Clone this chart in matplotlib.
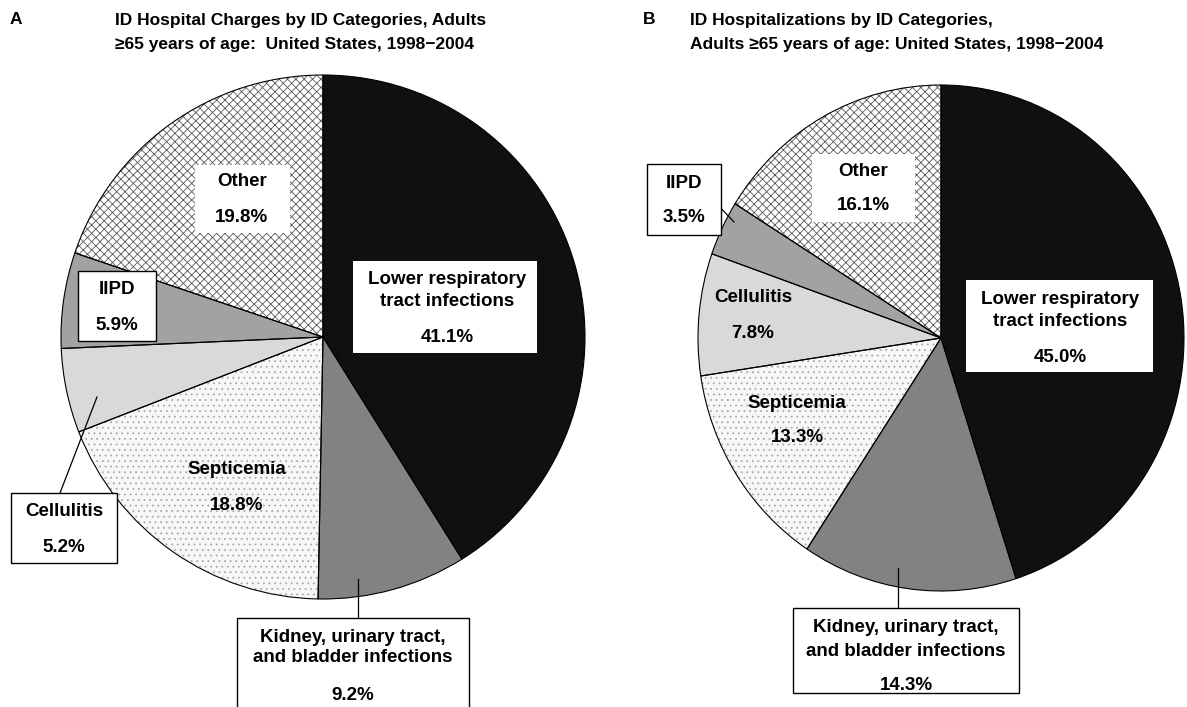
import matplotlib
matplotlib.use("Agg")
import matplotlib.pyplot as plt
from matplotlib.patches import Rectangle

plt.rcParams['font.family'] = ['Liberation Sans', 'DejaVu Sans']
plt.rcParams['hatch.linewidth'] = 0.6

# datos de los dos paneles
categorias = ['Lower respiratory tract infections',
              'Kidney, urinary tract, and bladder infections',
              'Septicemia', 'Cellulitis', 'IIPD', 'Other']
cargos = [41.1, 9.2, 18.8, 5.2, 5.9, 19.8]            # panel A
hospitalizaciones = [45.0, 14.3, 13.3, 7.8, 3.5, 16.1]  # panel B

colores = ['#101010', '#828282', '#f7f7f7', '#d9d9d9', '#a2a2a2', 'white']
tramas = ['', '', '...', '', '', 'xxxx']
color_trama = ['#101010', '#828282', '#a8a8a8', '#d9d9d9', '#a2a2a2', '#5a5a5a']

W, H = 1187, 707
fig = plt.figure(figsize=(W / 100, H / 100), dpi=100)


def tarta(valores, cx, cy, rx, ry):
    # un eje propio por tarta, ajustado a la caja de la elipse en pixeles
    a = fig.add_axes([(cx - rx) / W, (H - cy - ry) / H, 2 * rx / W, 2 * ry / H])
    w1, _ = a.pie(valores, colors=colores, startangle=90, counterclock=False,
                  radius=1, frame=True, wedgeprops=dict(linewidth=0))
    for w, h, c in zip(w1, tramas, color_trama):
        w.set_hatch(h)
        w.set_edgecolor(c)
    a.pie(valores, colors=['none'] * len(valores), startangle=90,
          counterclock=False, radius=1, frame=True,
          wedgeprops=dict(linewidth=0.8, edgecolor='black'))
    a.set_aspect('auto')
    a.set_xlim(-1, 1)
    a.set_ylim(-1, 1)
    a.axis('off')
    for w in a.patches:
        w.set_clip_on(False)


tarta(cargos, 323, 337, 262, 262)
tarta(hospitalizaciones, 941, 338, 243, 253)

ax = fig.add_axes([0, 0, 1, 1])
ax.set_xlim(0, W)
ax.set_ylim(H, 0)
ax.axis('off')


def caja(x0, y0, x1, y1, borde=True):
    ax.add_patch(Rectangle((x0, y0), x1 - x0, y1 - y0, facecolor='white',
                           edgecolor='black' if borde else 'none',
                           linewidth=1.0, zorder=5))


def texto(x, y, s):
    ax.text(x, y, s, ha='center', va='center', fontsize=13.5,
            fontweight='bold', zorder=6)


def linea(x0, y0, x1, y1):
    ax.plot([x0, x1], [y0, y1], color='black', linewidth=0.9, zorder=4)


# titulos
ax.text(10, 20, 'A', fontsize=12.5, fontweight='bold', va='center')
ax.text(115, 21, 'ID Hospital Charges by ID Categories, Adults',
        fontsize=12.5, fontweight='bold', va='center')
ax.text(115, 45, '\u226565 years of age:  United States, 1998\u22122004',
        fontsize=12.5, fontweight='bold', va='center')
ax.text(643, 20, 'B', fontsize=12.5, fontweight='bold', va='center')
ax.text(690, 21, 'ID Hospitalizations by ID Categories,',
        fontsize=12.5, fontweight='bold', va='center')
ax.text(690, 45, 'Adults \u226565 years of age: United States, 1998\u22122004',
        fontsize=12.5, fontweight='bold', va='center')

# panel A etiquetas
caja(195, 165, 290, 233, borde=False)
texto(242, 182, 'Other')
texto(242, 217, f'{cargos[5]:.1f}%')

caja(353, 261, 537, 353, borde=False)
texto(447, 279, 'Lower respiratory')
texto(447, 302, 'tract infections')
texto(447, 337, f'{cargos[0]:.1f}%')

caja(78, 271, 156, 341)
texto(117, 289, 'IIPD')
texto(117, 325, f'{cargos[4]:.1f}%')

linea(60, 493, 97, 397)
caja(11, 493, 117, 563)
texto(64, 512, 'Cellulitis')
texto(64, 548, f'{cargos[3]:.1f}%')

texto(237, 470, 'Septicemia')
texto(237, 505, f'{cargos[2]:.1f}%')

linea(358, 579, 358, 618)
caja(237, 618, 469, 730)
texto(353, 637, 'Kidney, urinary tract,')
texto(353, 658, 'and bladder infections')
texto(353, 695, f'{cargos[1]:.1f}%')

# panel B etiquetas
caja(812, 154, 915, 222, borde=False)
texto(863, 171, 'Other')
texto(863, 205, f'{hospitalizaciones[5]:.1f}%')

caja(966, 280, 1153, 372, borde=False)
texto(1060, 299, 'Lower respiratory')
texto(1060, 322, 'tract infections')
texto(1060, 357, f'{hospitalizaciones[0]:.1f}%')

linea(715, 202, 734, 222)
caja(647, 164, 721, 235)
texto(684, 183, 'IIPD')
texto(684, 218, f'{hospitalizaciones[4]:.1f}%')

texto(753, 298, 'Cellulitis')
texto(753, 333, f'{hospitalizaciones[3]:.1f}%')

texto(797, 403, 'Septicemia')
texto(797, 438, f'{hospitalizaciones[2]:.1f}%')

linea(898, 568, 898, 608)
caja(793, 608, 1019, 693)
texto(906, 628, 'Kidney, urinary tract,')
texto(906, 652, 'and bladder infections')
texto(906, 686, f'{hospitalizaciones[1]:.1f}%')

fig.savefig('out.png', dpi=100)
